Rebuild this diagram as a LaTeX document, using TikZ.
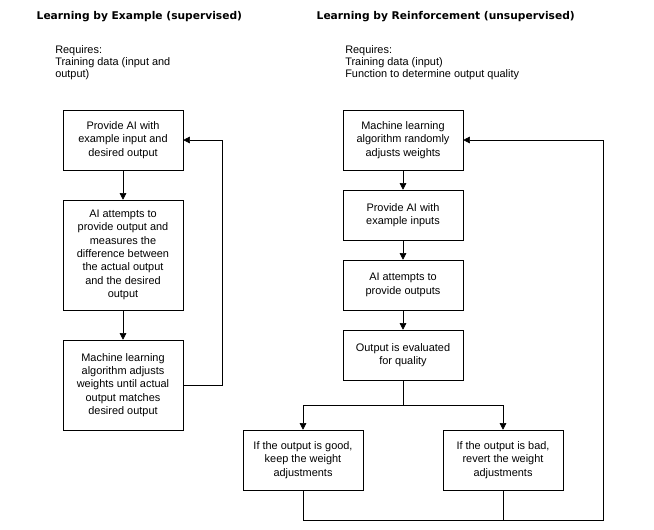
\documentclass[tikz,border=0pt]{standalone}
\usepackage{fontspec}
\setmainfont{Liberation Sans}
\newfontfamily\titlefont{DejaVu Sans}
\usetikzlibrary{arrows.meta,positioning}
\begin{document}
\begin{tikzpicture}[x=0.75pt,y=-0.75pt,thin,
    stepbox/.style={draw,minimum width=90pt,align=center,font=\fontsize{8.2}{10}\selectfont,inner sep=2pt},
    title/.style={anchor=west,font=\titlefont\bfseries\fontsize{8}{10}\selectfont},
    note/.style={anchor=north west,align=left,font=\fontsize{8.2}{9.2}\selectfont,inner sep=0pt},
    arr/.style={-{Triangle[length=5pt,width=5pt]}}]
  \useasboundingbox (0,0) rectangle (654,529);

  % supervised
  \node[title] (t1) at (32,17) {Learning by Example (supervised)};
  \node[note] (r1) at (55,45) {Requires:\\Training data (input and\\output)};
  \node[stepbox,minimum height=45pt] (a1) at (123,140) {Provide AI with\\example input and\\desired output};
  \node[stepbox,minimum height=82.5pt] (a2) at (123,255) {AI attempts to\\provide output and\\measures the\\difference between\\the actual output\\and the desired\\output};
  \node[stepbox,minimum height=67.5pt] (a3) at (123,385) {Machine learning\\algorithm adjusts\\weights until actual\\output matches\\desired output};
  \draw[arr] (a1) -- (a2);
  \draw[arr] (a2) -- (a3);
  \draw[arr] (a3.east) -| (222,140) -- (a1.east);

  % reinforcement
  \node[title] (t2) at (312,17) {Learning by Reinforcement (unsupervised)};
  \node[note] (r2) at (345,45) {Requires:\\Training data (input)\\Function to determine output quality};
  \node[stepbox,minimum height=45pt] (b1) at (403,140) {Machine learning\\algorithm randomly\\adjusts weights};
  \node[stepbox,minimum height=37.5pt] (b2) at (403,215) {Provide AI with\\example inputs};
  \node[stepbox,minimum height=37.5pt] (b3) at (403,285) {AI attempts to\\provide outputs};
  \node[stepbox,minimum height=37.5pt] (b4) at (403,355) {Output is evaluated\\for quality};
  \node[stepbox,minimum height=45pt] (g) at (303,460) {If the output is good,\\keep the weight\\adjustments};
  \node[stepbox,minimum height=45pt] (h) at (503,460) {If the output is bad,\\revert the weight\\adjustments};
  \coordinate (split) at (403,405);
  \draw[arr] (b1) -- (b2);
  \draw[arr] (b2) -- (b3);
  \draw[arr] (b3) -- (b4);
  \draw (b4) -- (split);
  \draw[arr] (split) -| (g.north);
  \draw[arr] (split) -| (h.north);
  \draw (g.south) |- (503,520);
  \draw[arr] (h.south) |- (603,520) |- (b1.east);
\end{tikzpicture}
\end{document}
